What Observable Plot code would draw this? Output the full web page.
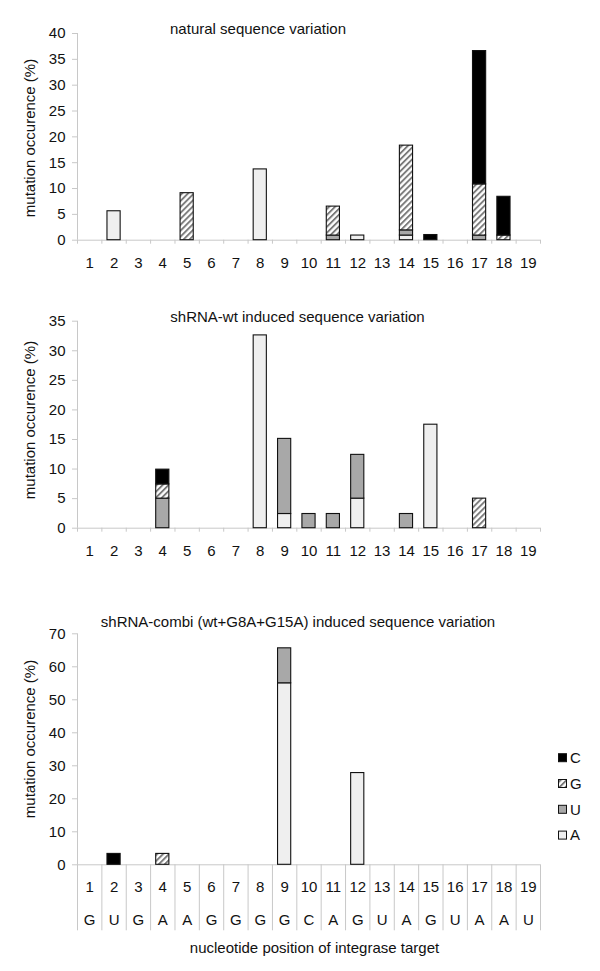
<!DOCTYPE html>
<html>
<head>
<meta charset="utf-8">
<script src="https://cdn.jsdelivr.net/npm/d3@7"></script>
<script src="https://cdn.jsdelivr.net/npm/@observablehq/plot@0.6"></script>
<style>
  html, body { margin: 0; padding: 0; background: #fff; }
  #root { position: relative; width: 600px; height: 971px; overflow: hidden; font-family: "Liberation Sans", Arial, sans-serif; font-size: 15px; color: #111; }
  .abs { position: absolute; }
  .lbl { position: absolute; white-space: nowrap; transform: translate(-50%, -50%); }
  .ylab { position: absolute; white-space: nowrap; transform: translate(-50%, -50%) rotate(-90deg); }
</style>
</head>
<body>
<svg width="0" height="0" style="position:absolute">
  <defs>
    <pattern id="hatchG" patternUnits="userSpaceOnUse" width="4.2" height="4.2" patternTransform="rotate(45)">
      <rect width="4.2" height="4.2" fill="#ffffff"></rect>
      <rect width="1.9" height="4.2" fill="#7a7a7a"></rect>
    </pattern>
  </defs>
</svg>
<div id="root"></div>
<script>
// ---------- data ----------
const positions = [1,2,3,4,5,6,7,8,9,10,11,12,13,14,15,16,17,18,19];
const targetSeq = ["G","U","G","A","A","G","G","G","G","C","A","G","U","A","G","U","A","A","U"];
const bases = ["A","U","G","C"];          // stacking order, bottom to top
const legendOrder = ["C","G","U","A"];
const baseFills = ["#efefef", "#a8a8a8", "url(#hatchG)", "#000000"];

// panel 1: natural sequence variation (%)
const natA = [0,5.6,0,0,0,0,0,13.7,0,0,0,0.9,0,0.9,0,0,0,0,0];
const natU = [0,0,0,0,0,0,0,0,0,0,0.9,0,0,1.0,0,0,0.9,0,0];
const natG = [0,0,0,0,9.1,0,0,0,0,0,5.6,0,0,16.4,0,0,9.9,0.9,0];
const natC = [0,0,0,0,0,0,0,0,0,0,0,0,0,0,1.0,0,25.8,7.5,0];

// panel 2: shRNA-wt induced sequence variation (%)
const wtA = [0,0,0,0,0,0,0,32.6,2.4,0,0,5.0,0,0,17.5,0,0,0,0];
const wtU = [0,0,0,5.0,0,0,0,0,12.7,2.4,2.4,7.4,0,2.4,0,0,0,0,0];
const wtG = [0,0,0,2.4,0,0,0,0,0,0,0,0,0,0,0,0,5.0,0,0];
const wtC = [0,0,0,2.5,0,0,0,0,0,0,0,0,0,0,0,0,0,0,0];

// panel 3: shRNA-combi induced sequence variation (%)
const cbA = [0,0,0,0,0,0,0,0,55.0,0,0,27.8,0,0,0,0,0,0,0];
const cbU = [0,0,0,0,0,0,0,0,10.6,0,0,0,0,0,0,0,0,0,0];
const cbG = [0,0,0,3.3,0,0,0,0,0,0,0,0,0,0,0,0,0,0,0];
const cbC = [0,3.3,0,0,0,0,0,0,0,0,0,0,0,0,0,0,0,0,0];

const titles = [
  "natural sequence variation",
  "shRNA-wt induced sequence variation",
  "shRNA-combi (wt+G8A+G15A) induced sequence variation"
];
const yTitle = "mutation occurence (%)";
const xTitle = "nucleotide position of integrase target";
const yTicks1 = [0,5,10,15,20,25,30,35,40];
const yTicks2 = [0,5,10,15,20,25,30,35];
const yTicks3 = [0,10,20,30,40,50,60,70];

// ---------- helpers ----------
function stackRows(series) {
  const rows = [];
  positions.forEach((p, i) => {
    let acc = 0;
    bases.forEach((b, k) => {
      const v = series[k][i];
      if (v > 0) { rows.push({pos: p, base: b, y1: acc, y2: acc + v}); acc += v; }
    });
  });
  return rows;
}
const boundaries = [0.5, ...positions.map(p => p + 0.5)];
const root = document.getElementById("root");
const FS = 15;
const FONT = "Liberation Sans, Arial, sans-serif";

function panel({series, yTicks, top, height, mTop, mBottom, sepLen, letters}) {
  const rows = stackRows(series);
  const ymax = yTicks[yTicks.length - 1];
  const marks = [
    Plot.ruleY([0], {stroke: "#c8c8c8"}),
    Plot.ruleX([0.5], {y1: 0, y2: ymax, stroke: "#c8c8c8"}),
    Plot.axisY({ticks: yTicks, tickSize: 5, tickPadding: 7, stroke: "#c8c8c8", fill: "#111", fontSize: FS, label: null}),
    Plot.axisX({ticks: boundaries, tickSize: sepLen, tickFormat: () => "", stroke: "#c8c8c8", label: null}),
    Plot.axisX({ticks: positions, tickSize: 0, tickPadding: 17, fill: "#111", fontSize: FS, label: null, tickFormat: d => String(d)}),
    Plot.rect(rows, {x1: d => d.pos - 0.5, x2: d => d.pos + 0.5, y1: "y1", y2: "y2", fill: "base",
      stroke: "#111", strokeWidth: 1.1, insetLeft: 5.6, insetRight: 5.6})
  ];
  if (letters) {
    marks.push(Plot.axisX({ticks: positions, tickSize: 0, tickPadding: 49.3, fill: "#111", fontSize: FS, label: null,
      tickFormat: d => targetSeq[d - 1]}));
  }
  const chart = Plot.plot({
    width: 600, height, marginLeft: 77, marginRight: 60, marginTop: mTop, marginBottom: mBottom,
    style: {fontFamily: FONT, fontSize: FS + "px", color: "#111", background: "transparent", overflow: "visible"},
    x: {type: "linear", domain: [0.5, 19.5]},
    y: {domain: [0, ymax]},
    color: {type: "ordinal", domain: bases, range: baseFills},
    marks
  });
  chart.classList.add("abs");
  chart.style.left = "0px";
  chart.style.top = top + "px";
  root.appendChild(chart);
}

panel({series: [natA, natU, natG, natC], yTicks: yTicks1, top: 0, height: 280, mTop: 33, mBottom: 40.3, sepLen: 4});
panel({series: [wtA, wtU, wtG, wtC], yTicks: yTicks2, top: 290, height: 280, mTop: 30.7, mBottom: 42.3, sepLen: 4});
panel({series: [cbA, cbU, cbG, cbC], yTicks: yTicks3, top: 600, height: 371, mTop: 33.3, mBottom: 106.7, sepLen: 66, letters: true});

// ---------- titles ----------
function addLabel(text, x, y, cls) {
  const d = document.createElement("div");
  d.className = cls; d.textContent = text;
  d.style.left = x + "px"; d.style.top = y + "px";
  root.appendChild(d);
}
addLabel(titles[0], 258, 28, "lbl");
addLabel(titles[1], 297.5, 315.7, "lbl");
addLabel(titles[2], 298, 620.7, "lbl");
addLabel(yTitle, 28.7, 137.5, "ylab");
addLabel(yTitle, 28.7, 420, "ylab");
addLabel(yTitle, 28.7, 739, "ylab");
addLabel(xTitle, 314.5, 947, "lbl");

// ---------- legend ----------
const fillOf = b => baseFills[bases.indexOf(b)];
const leg = d3.select(root).append("svg")
  .attr("class", "abs").style("left", "550px").style("top", "745px")
  .attr("width", 50).attr("height", 100)
  .style("font-family", FONT).style("font-size", FS + "px");
const step = 25.8;
const item = leg.selectAll("g").data(legendOrder).join("g")
  .attr("transform", (d, i) => `translate(0, ${12.7 + i * step})`);
item.append("rect").attr("x", 8.5).attr("y", -4).attr("width", 8).attr("height", 8)
  .attr("fill", d => fillOf(d)).attr("stroke", "#111").attr("stroke-width", 1);
item.append("text").attr("x", 20).attr("y", 0).attr("dy", "0.35em").attr("fill", "#111").text(d => d);
</script>
</body>
</html>
